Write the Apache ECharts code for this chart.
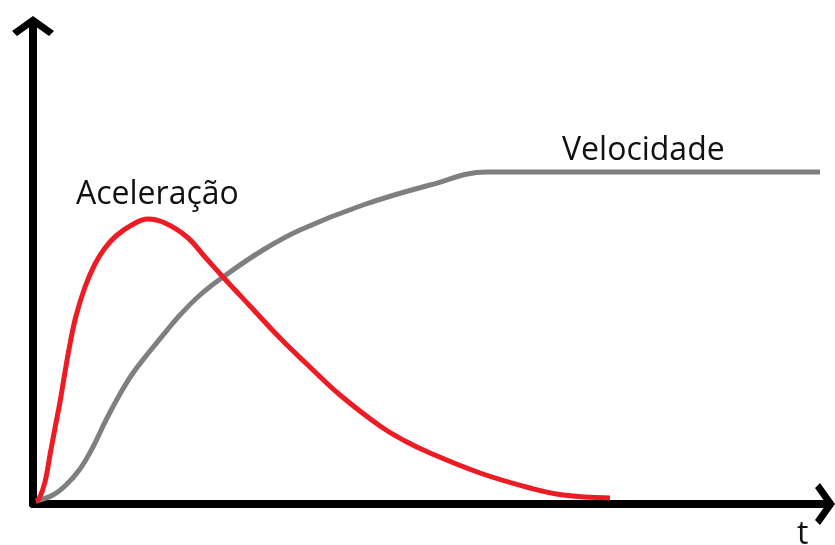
<!DOCTYPE html>
<html>
<head>
    <meta charset="utf-8"/>
    <title>Aceleração e Velocidade</title>
    <style>
        html, body { margin: 0; padding: 0; background: #fff; }
        #main { width: 835px; height: 545px; }
    </style>
</head>
<body>
<div id="main"></div>
<script src="https://cdn.jsdelivr.net/npm/echarts@6/dist/echarts.min.js"></script>
<script>
    // curva vermelha (aceleração)
    var acelX = [3, 6, 12, 17, 22, 27, 32, 37, 43, 52, 62, 72, 83, 97, 115, 132, 154, 172, 190, 217, 247, 280, 307, 347, 372, 397, 447, 497, 530, 577];
    var acelY = [3, 5, 22, 49, 76, 102, 132, 160, 188, 217, 240, 256, 268, 278, 285, 281, 267, 247, 227, 198, 166, 134, 109, 78, 63, 51, 31, 16, 9, 6];
    // curva cinza (velocidade)
    var veloX = [3, 20, 33, 47, 60, 73, 87, 100, 117, 135, 147, 167, 190, 230, 267, 330, 397, 454, 600, 787];
    var veloY = [3, 9, 19, 35, 57, 84, 110, 131, 153, 175, 189, 209, 227, 254, 274, 299, 319, 332, 332, 332];

    var rotulos = ['Aceleração', 'Velocidade', 't'];

    function pares(xs, ys) {
        var out = [];
        for (var i = 0; i < xs.length; i++) {
            out.push([xs[i], ys[i]]);
        }
        return out;
    }

    // seta aberta na ponta dos eixos
    var seta = 'path://M21,0 L42,15 L37,20 L25,11.5 L25,20 L17,20 L17,11.5 L5,20 L0,15 Z';

    var eixo = {
        show: true,
        symbol: ['none', seta],
        symbolSize: [42, 20],
        lineStyle: { color: '#000', width: 8, cap: 'round' }
    };

    var fonte = '32px "Open Sans"';

    var option = {
        animation: false,
        backgroundColor: '#fff',
        grid: { left: 33, right: 10, top: 26, bottom: 41, containLabel: false },
        xAxis: {
            type: 'value', min: 0, max: 792,
            axisLine: eixo,
            axisTick: { show: false },
            axisLabel: { show: false },
            splitLine: { show: false }
        },
        yAxis: {
            type: 'value', min: 0, max: 478,
            axisLine: eixo,
            axisTick: { show: false },
            axisLabel: { show: false },
            splitLine: { show: false }
        },
        series: [
            {
                name: rotulos[1],
                type: 'line',
                data: pares(veloX, veloY),
                smooth: 0.4,
                symbol: 'none',
                clip: false,
                lineStyle: { color: '#7f7f7f', width: 5 }
            },
            {
                name: rotulos[0],
                type: 'line',
                data: pares(acelX, acelY),
                smooth: 0.4,
                symbol: 'none',
                clip: false,
                lineStyle: { color: '#ed1c24', width: 5 }
            }
        ],
        graphic: [
            {
                type: 'text', left: 76, top: 179,
                style: { text: rotulos[0], font: fonte, fill: '#111' }
            },
            {
                type: 'text', left: 562, top: 135,
                style: { text: rotulos[1], font: fonte, fill: '#111' }
            },
            {
                type: 'text', left: 797, top: 519,
                style: { text: rotulos[2], font: fonte, fill: '#111' }
            }
        ]
    };

    var myChart = echarts.init(document.getElementById('main'));
    myChart.setOption(option);
</script>
</body>
</html>
